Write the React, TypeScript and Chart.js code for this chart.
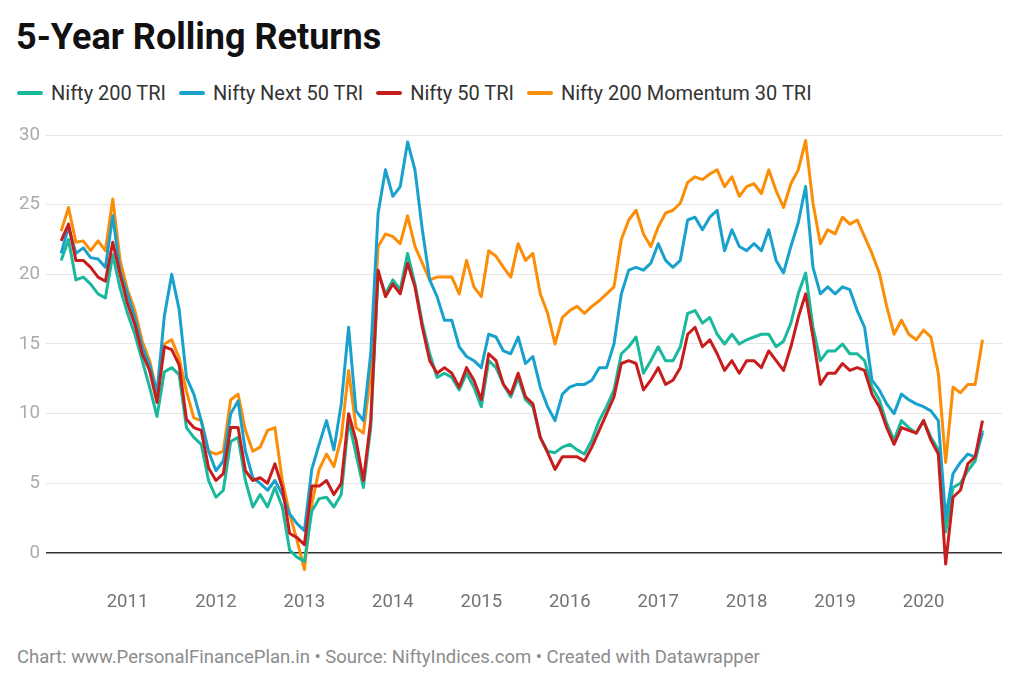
import { useEffect, useRef } from 'react';
import { Chart, type ChartConfiguration, registerables } from 'chart.js';

Chart.register(...registerables);

// monthly points, Apr 2010 .. Sep 2020
const START_MONTH = 2010 + 3 / 12;
const MONTHS = Array.from({ length: 126 }, (_, i) => START_MONTH + i / 12);

const YEAR_TICKS = [2011, 2012, 2013, 2014, 2015, 2016, 2017, 2018, 2019, 2020];
const VALUE_TICKS = [0, 5, 10, 15, 20, 25, 30];

const nifty200 = [
  21.0, 22.5, 19.6, 19.8, 19.3, 18.6, 18.3, 21.4, 19.0, 17.2, 15.7, 13.8, 11.9, 9.8, 13.0, 13.3,
  12.8, 9.0, 8.3, 7.8, 5.2, 4.0, 4.5, 8.0, 8.3, 5.2, 3.3, 4.2, 3.3, 4.7, 3.3, 0.2,
  -0.3, -0.6, 3.0, 3.9, 4.0, 3.3, 4.2, 9.5, 7.1, 4.7, 9.0, 20.1, 18.6, 19.6, 18.9, 21.5,
  19.3, 16.5, 14.3, 12.6, 12.9, 12.6, 11.7, 12.9, 11.9, 10.5, 13.8, 13.3, 12.1, 11.2, 12.6, 11.0,
  10.5, 8.3, 7.3, 7.2, 7.6, 7.8, 7.4, 7.1, 8.1, 9.5, 10.5, 11.7, 14.3, 14.8, 15.5, 12.9,
  13.8, 14.8, 13.8, 13.8, 14.8, 17.2, 17.4, 16.5, 16.9, 15.7, 15.0, 15.7, 15.0, 15.3, 15.5, 15.7,
  15.7, 14.8, 15.2, 16.5, 18.6, 20.1, 16.2, 13.8, 14.5, 14.5, 15.0, 14.3, 14.3, 13.8, 11.9, 11.0,
  9.3, 8.1, 9.5, 9.0, 8.6, 9.5, 8.3, 7.4, 1.5, 4.7, 5.0, 5.9, 6.6, 8.8,
];

const niftyNext50 = [
  21.5, 23.4, 21.5, 21.9, 21.2, 21.1, 20.5, 24.2, 20.2, 18.6, 16.9, 14.8, 13.5, 11.5, 17.0, 20.0,
  17.5, 12.6, 11.4, 9.5, 7.3, 5.9, 6.6, 10.0, 10.9, 7.3, 5.4, 5.0, 4.5, 5.2, 4.2, 2.8,
  2.1, 1.6, 6.0, 7.8, 9.5, 7.4, 10.7, 16.2, 10.2, 9.5, 14.3, 24.4, 27.5, 25.6, 26.3, 29.5,
  27.5, 23.2, 19.6, 18.4, 16.7, 16.7, 14.8, 14.1, 13.8, 13.3, 15.7, 15.5, 14.5, 14.3, 15.5, 13.6,
  14.1, 11.9, 10.5, 9.5, 11.4, 11.9, 12.1, 12.1, 12.4, 13.3, 13.3, 15.0, 18.6, 20.3, 20.5, 20.3,
  20.8, 22.2, 21.0, 20.5, 21.0, 23.9, 24.1, 23.2, 24.1, 24.6, 21.7, 23.2, 22.0, 21.7, 22.2, 21.7,
  23.2, 21.0, 20.1, 22.0, 23.7, 26.3, 20.5, 18.6, 19.1, 18.6, 19.1, 18.9, 17.4, 16.2, 12.4, 11.7,
  10.7, 10.0, 11.4, 11.0, 10.7, 10.5, 10.2, 9.5, 2.5, 5.7, 6.5, 7.1, 6.9, 8.6,
];

const nifty50 = [
  22.4, 23.6, 21.0, 21.0, 20.5, 19.8, 19.5, 22.3, 20.0, 17.9, 16.4, 14.3, 13.1, 10.8, 14.8, 14.6,
  13.5, 9.6, 9.0, 8.8, 6.1, 5.2, 5.7, 9.0, 9.0, 5.9, 5.2, 5.4, 5.0, 6.4, 4.7, 1.4,
  1.1, 0.6, 4.8, 4.8, 5.2, 4.2, 5.0, 10.0, 8.1, 5.2, 9.5, 20.3, 18.4, 19.3, 18.6, 20.8,
  19.1, 16.2, 13.8, 12.9, 13.3, 12.9, 11.9, 13.3, 12.4, 11.0, 14.3, 13.8, 12.1, 11.4, 12.9, 11.2,
  10.7, 8.3, 7.2, 6.0, 6.9, 6.9, 6.9, 6.6, 7.6, 8.8, 10.0, 11.2, 13.6, 13.8, 13.6, 11.7,
  12.4, 13.3, 12.1, 12.4, 13.3, 15.7, 16.2, 14.8, 15.3, 14.3, 13.1, 13.8, 12.9, 13.8, 13.8, 13.3,
  14.5, 13.8, 13.1, 14.8, 16.9, 18.6, 15.5, 12.1, 12.9, 12.9, 13.6, 13.1, 13.3, 13.1, 11.4, 10.5,
  9.0, 7.8, 9.0, 8.8, 8.6, 9.5, 8.1, 7.1, -0.8, 4.0, 4.5, 6.4, 6.9, 9.5,
];

const momentum30 = [
  23.1, 24.8, 22.3, 22.4, 21.7, 22.4, 21.7, 25.4, 21.0, 18.9, 17.4, 15.2, 13.8, 11.5, 15.0, 15.3,
  14.0, 11.6, 9.7, 9.5, 7.3, 7.1, 7.3, 11.0, 11.4, 8.8, 7.3, 7.6, 8.8, 9.0, 5.2, 2.8,
  0.9, -1.2, 3.5, 6.0, 7.1, 6.2, 8.3, 13.1, 9.0, 8.6, 12.9, 22.0, 22.9, 22.7, 22.2, 24.2,
  22.0, 20.8, 19.6, 19.8, 19.8, 19.8, 18.6, 21.0, 19.1, 18.4, 21.7, 21.3, 20.5, 19.8, 22.2, 21.0,
  21.5, 18.6, 17.2, 15.0, 16.9, 17.4, 17.7, 17.2, 17.7, 18.1, 18.6, 19.1, 22.5, 23.9, 24.6, 22.9,
  22.0, 23.4, 24.4, 24.6, 25.1, 26.6, 27.0, 26.8, 27.2, 27.5, 26.3, 27.0, 25.6, 26.3, 26.5, 25.8,
  27.5, 26.0, 24.8, 26.5, 27.5, 29.6, 25.1, 22.2, 23.2, 22.9, 24.1, 23.6, 23.9, 22.7, 21.5, 20.1,
  17.7, 15.7, 16.7, 15.7, 15.3, 16.0, 15.5, 12.9, 6.5, 11.9, 11.5, 12.1, 12.1, 15.3,
];

const SERIES = [
  { label: 'Nifty 200 TRI', color: '#1ab89c', values: nifty200 },
  { label: 'Nifty Next 50 TRI', color: '#19a1cd', values: niftyNext50 },
  { label: 'Nifty 50 TRI', color: '#c71e1d', values: nifty50 },
  { label: 'Nifty 200 Momentum 30 TRI', color: '#fb8d07', values: momentum30 },
];

// drawing order: first dataset ends up on top
const DRAW_ORDER = [2, 1, 0, 3];

const FONT = 'Roboto, "Noto Sans", sans-serif';

function RollingReturnsChart() {
  const canvasRef = useRef<HTMLCanvasElement | null>(null);
  const chartRef = useRef<Chart<'line'> | null>(null);

  useEffect(() => {
    if (!canvasRef.current) return;
    const config: ChartConfiguration<'line'> = {
      type: 'line',
      data: {
        datasets: DRAW_ORDER.map((k) => ({
          label: SERIES[k].label,
          data: SERIES[k].values.map((v, i) => ({ x: MONTHS[i], y: v })),
          borderColor: SERIES[k].color,
          backgroundColor: SERIES[k].color,
          borderWidth: 3,
          pointRadius: 0,
          borderJoinStyle: 'round',
          tension: 0,
        })),
      },
      options: {
        responsive: true,
        maintainAspectRatio: false,
        animation: false,
        layout: { padding: { top: 11.07, right: 22, left: 0, bottom: 0 } },
        scales: {
          x: {
            type: 'linear',
            min: 2010.0786,
            max: 2020.887,
            grid: { display: false },
            border: { display: false },
            afterBuildTicks: (scale) => {
              scale.ticks = YEAR_TICKS.map((v) => ({ value: v }));
            },
            afterFit: (scale) => {
              scale.height = 32.2;
              scale.paddingLeft = 0;
              scale.paddingRight = 0;
            },
            ticks: {
              padding: -5,
              maxRotation: 0,
              autoSkip: false,
              color: '#737373',
              font: { family: FONT, size: 18.5 },
              callback: (value) => String(value),
            },
          },
          y: {
            min: -2.5,
            max: 31,
            border: { display: false },
            grid: {
              drawTicks: false,
              color: (ctx) => (ctx.tick && ctx.tick.value === 0 ? '#333333' : '#e5e5e5'),
              lineWidth: (ctx) => (ctx.tick && ctx.tick.value === 0 ? 1.5 : 1),
            },
            afterBuildTicks: (scale) => {
              scale.ticks = VALUE_TICKS.map((v) => ({ value: v }));
            },
            afterFit: (scale) => {
              scale.width = 46;
              scale.paddingTop = 0;
              scale.paddingBottom = 0;
            },
            ticks: {
              padding: 6,
              color: '#ababab',
              font: { family: FONT, size: 18.7 },
              callback: (value) => String(value),
            },
          },
        },
        plugins: {
          legend: { display: false },
          tooltip: { enabled: false },
        },
      },
    };

    chartRef.current = new Chart(canvasRef.current, config);

    return () => {
      chartRef.current?.destroy();
      chartRef.current = null;
    };
  }, []);

  return <canvas ref={canvasRef} />;
}

export default function App() {
  return (
    <div
      style={{
        position: 'fixed',
        left: 0,
        top: 0,
        width: 1024,
        height: 694,
        background: '#ffffff',
        fontFamily: FONT,
      }}
    >
      <div
        style={{
          position: 'absolute',
          left: 16,
          top: 19,
          fontSize: 36,
          lineHeight: 1,
          fontWeight: 700,
          color: '#111111',
          whiteSpace: 'nowrap',
        }}
      >
        5-Year Rolling Returns
      </div>

      <div
        style={{
          position: 'absolute',
          left: 17,
          top: 82.5,
          display: 'flex',
          alignItems: 'center',
          fontSize: 20,
          lineHeight: 1,
          color: '#333333',
          whiteSpace: 'nowrap',
        }}
      >
        {SERIES.map((s) => (
          <div key={s.label} style={{ display: 'flex', alignItems: 'center', marginRight: 13 }}>
            <span
              style={{
                display: 'inline-block',
                width: 26,
                height: 4,
                borderRadius: 2,
                background: s.color,
                marginRight: 8,
              }}
            />
            <span>{s.label}</span>
          </div>
        ))}
      </div>

      <div style={{ position: 'absolute', left: 0, top: 110, width: 1024, height: 510 }}>
        <RollingReturnsChart />
      </div>

      <div
        style={{
          position: 'absolute',
          left: 17,
          top: 647.7,
          fontSize: 18.5,
          lineHeight: 1,
          color: '#8c8c8c',
          whiteSpace: 'nowrap',
        }}
      >
        Chart: www.PersonalFinancePlan.in • Source: NiftyIndices.com • Created with Datawrapper
      </div>
    </div>
  );
}
